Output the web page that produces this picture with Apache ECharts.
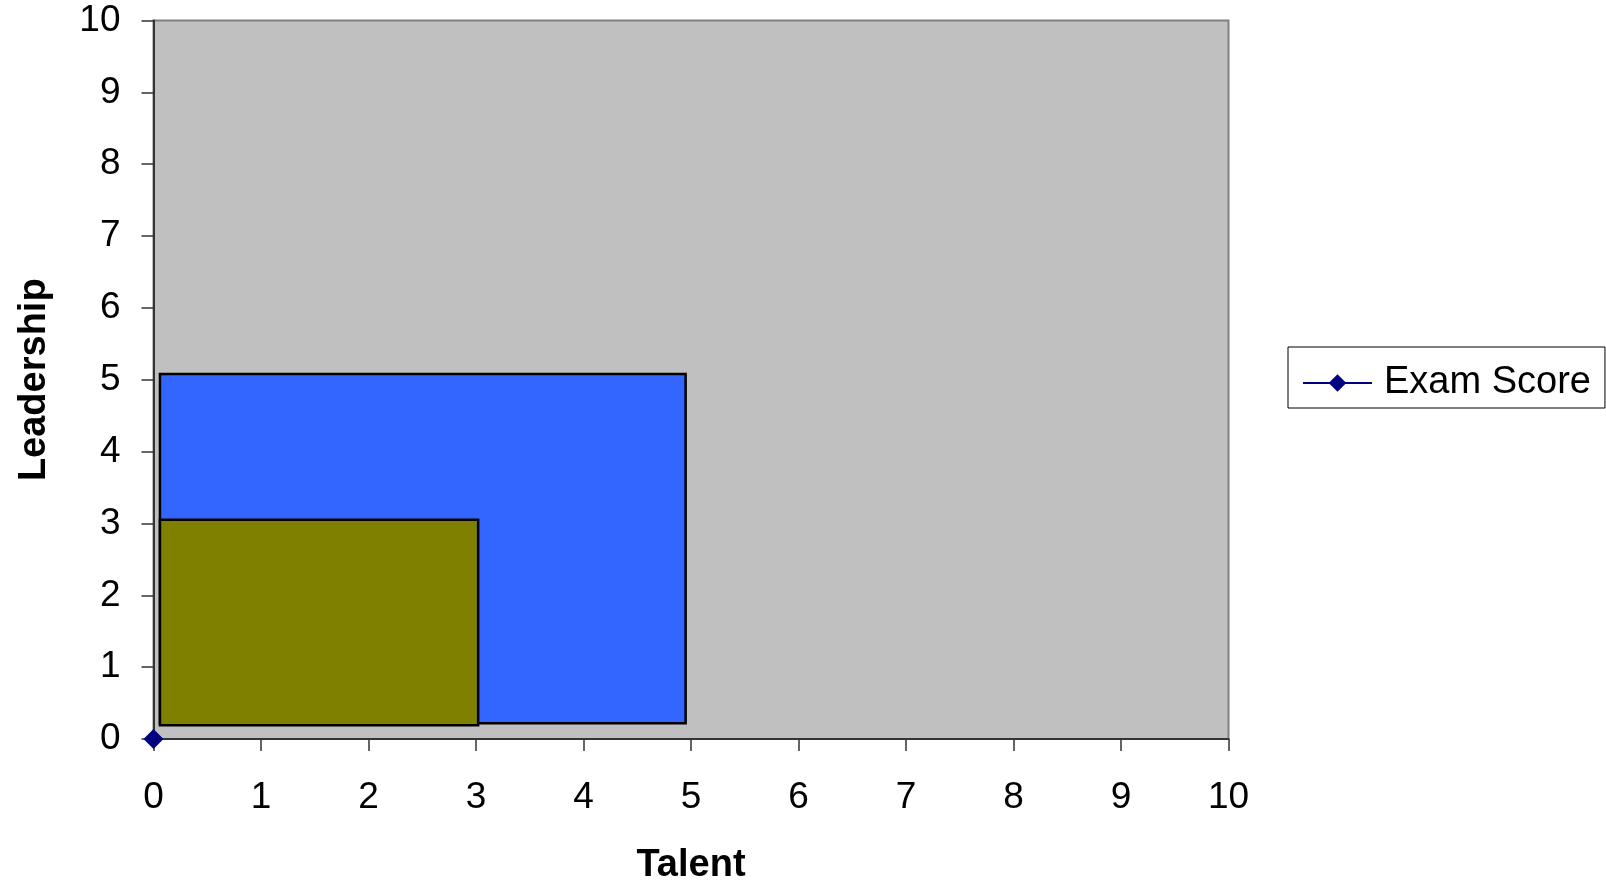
<!DOCTYPE html>
<html>
<head>
<meta charset="utf-8">
<script src="https://cdn.jsdelivr.net/npm/echarts@6/dist/echarts.min.js"></script>
<style>
  html, body { margin: 0; padding: 0; background: #fff; }
  #chart { width: 1606px; height: 887px; }
</style>
</head>
<body>
<div id="chart"></div>
<script>
// Axis ticks (both axes run 0..10 in steps of 1)
const xTicks = [0, 1, 2, 3, 4, 5, 6, 7, 8, 9, 10];
const yTicks = [0, 1, 2, 3, 4, 5, 6, 7, 8, 9, 10];

// Exam Score series: a single point
const examScore = [[0, 0]];

// Shaded regions: [xStart, xEnd, yStart, yEnd]
const blueRegion = [0.06, 4.95, 0.22, 5.08];
const oliveRegion = [0.06, 3.02, 0.19, 3.05];
const regions = [
  { value: blueRegion, color: '#3366FF' },
  { value: oliveRegion, color: '#808000' }
];

const FONT = '"Liberation Sans", Arial, sans-serif';

const chart = echarts.init(document.getElementById('chart'), null, { renderer: 'canvas' });

chart.setOption({
  backgroundColor: '#ffffff',
  animation: false,
  grid: {
    left: 153.5,
    top: 20.5,
    right: 377.5,
    bottom: 148,
    outerBoundsMode: 'none',
    containLabel: false,
    show: true,
    backgroundColor: '#C0C0C0',
    borderColor: '#808080',
    borderWidth: 2
  },
  legend: {
    data: ['Exam Score'],
    left: 1288,
    top: 347,
    orient: 'vertical',
    backgroundColor: '#ffffff',
    borderColor: '#000000',
    borderWidth: 1,
    borderRadius: 0,
    padding: [17, 14, 6, 14],
    itemWidth: 69,
    itemHeight: 22,
    textStyle: { fontFamily: FONT, fontSize: 38, color: '#000', padding: [0, 0, 0, 7] }
  },
  xAxis: {
    type: 'value',
    min: xTicks[0],
    max: xTicks[xTicks.length - 1],
    interval: 1,
    name: 'Talent',
    nameLocation: 'middle',
    nameGap: 108,
    nameTextStyle: { fontFamily: FONT, fontSize: 38, fontWeight: 'bold', color: '#000' },
    axisLine: { show: true, onZero: false, lineStyle: { color: '#333', width: 2 } },
    axisTick: { show: true, length: 12, lineStyle: { color: '#333', width: 1.5 } },
    axisLabel: { fontFamily: FONT, fontSize: 37, color: '#000', margin: 40 },
    splitLine: { show: false }
  },
  yAxis: {
    type: 'value',
    min: yTicks[0],
    max: yTicks[yTicks.length - 1],
    interval: 1,
    name: 'Leadership',
    nameLocation: 'middle',
    nameRotate: 90,
    nameGap: 100,
    nameTextStyle: { fontFamily: FONT, fontSize: 38, fontWeight: 'bold', color: '#000' },
    axisLine: { show: true, onZero: false, lineStyle: { color: '#333', width: 2 } },
    axisTick: { show: true, length: 12, lineStyle: { color: '#333', width: 1.5 } },
    axisLabel: { fontFamily: FONT, fontSize: 37, color: '#000', margin: 33 },
    splitLine: { show: false }
  },
  series: [
    {
      name: 'Regions',
      type: 'custom',
      z: 2,
      clip: false,
      data: regions.map(r => ({ value: r.value, itemStyle: { color: r.color } })),
      encode: { x: [0, 1], y: [2, 3] },
      renderItem: function (params, api) {
        const p0 = api.coord([api.value(0), api.value(3)]);
        const p1 = api.coord([api.value(1), api.value(2)]);
        const color = regions[params.dataIndex].color;
        return {
          type: 'rect',
          shape: { x: p0[0], y: p0[1], width: p1[0] - p0[0], height: p1[1] - p0[1] },
          style: { fill: color, stroke: '#000', lineWidth: 2.5 }
        };
      }
    },
    {
      name: 'Exam Score',
      type: 'line',
      z: 5,
      clip: false,
      data: examScore,
      symbol: 'diamond',
      symbolSize: 20,
      itemStyle: { color: '#000080' },
      lineStyle: { color: '#000080', width: 2 }
    }
  ]
});
</script>
</body>
</html>
